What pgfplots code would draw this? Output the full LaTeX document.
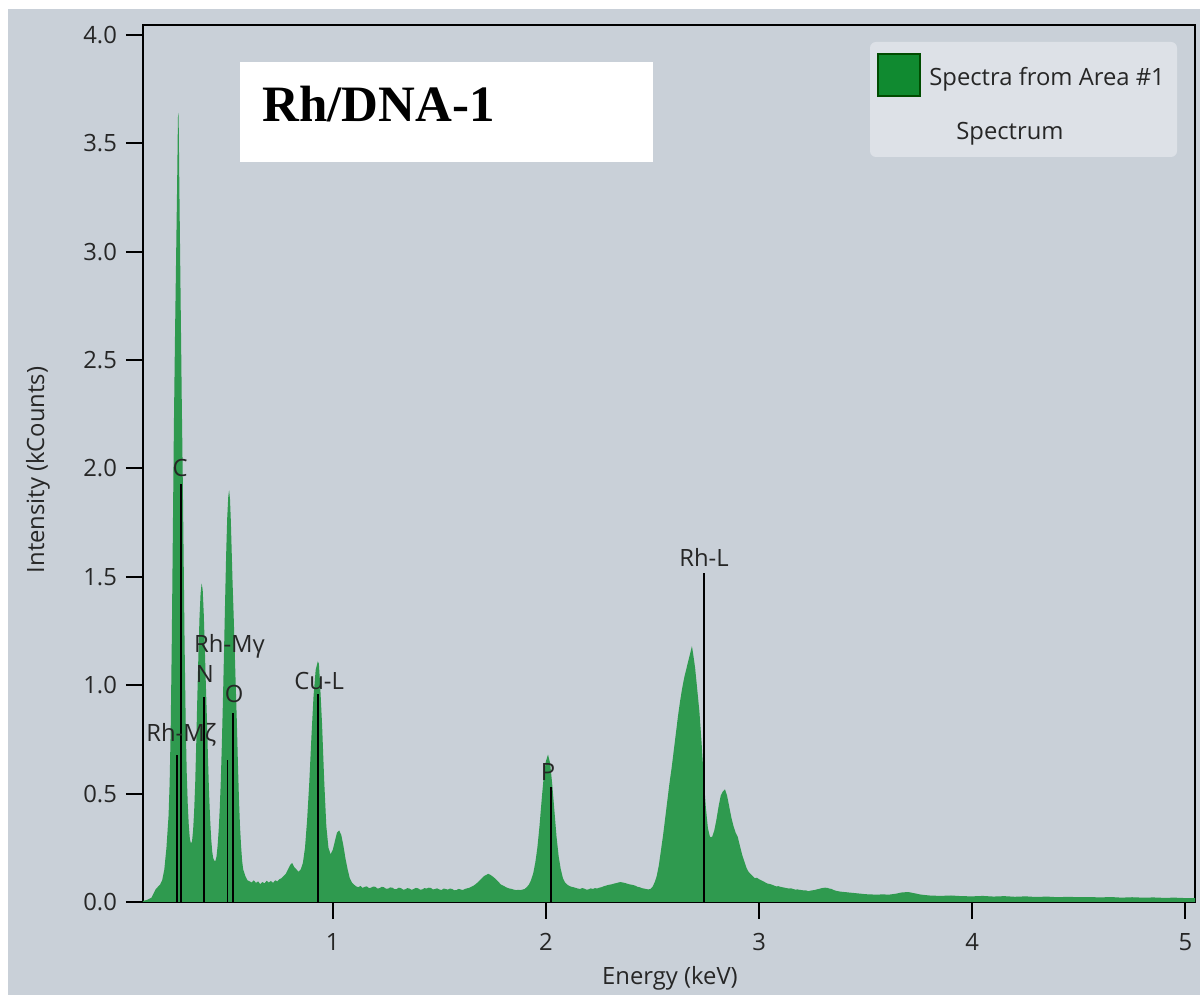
\documentclass[border=0pt]{standalone}
\usepackage{pgfplots}
\pgfplotsset{compat=1.18}
\usepackage{fontspec}
\setmainfont{Open Sans}
\newfontfamily\titlefont{Liberation Serif}
\definecolor{bgc}{RGB}{201,208,216}
\definecolor{legc}{RGB}{221,225,231}
\definecolor{spec}{RGB}{47,154,79}
\definecolor{legsq}{RGB}{16,138,48}
\newcommand{\lbfont}{\fontsize{11.9}{14}\selectfont}
\begin{document}
\begin{tikzpicture}
\fill[white] (-71.5pt,-46.5pt) rectangle (528.5pt,451pt);
\fill[bgc] (-67.5pt,-46.5pt) rectangle (528.5pt,446.5pt);
\begin{axis}[
  at={(0,0)}, anchor=south west, scale only axis,
  width=526pt, height=438.5pt,
  xmin=0.11, xmax=5.045, ymin=0, ymax=4.046,
  axis line style={black, line width=1pt},
  xtick={1,2,3,4,5}, ytick={0,0.5,1,1.5,2,2.5,3,3.5,4},
  tick align=outside, major tick length=8.5pt,
  tick style={black, line width=1pt},
  xtick pos=bottom, ytick pos=left,
  /pgf/number format/assume math mode=true,
  yticklabel style={/pgf/number format/fixed, /pgf/number format/fixed zerofill, /pgf/number format/precision=1, font=\lbfont, text=black!85, xshift=-1pt},
  xticklabel style={font=\lbfont, text=black!85, yshift=-3.5pt},
  clip mode=individual,
]
\addplot[fill=spec, draw=none] coordinates {
(0.110,0.005)(0.130,0.01)(0.150,0.02)(0.160,0.04)(0.170,0.06)(0.180,0.07)(0.190,0.08)(0.200,0.10)
(0.210,0.15)(0.220,0.25)(0.230,0.40)(0.235,0.55)(0.240,0.80)(0.245,1.20)(0.250,1.70)(0.255,2.20)
(0.260,2.60)(0.265,2.95)(0.270,3.30)(0.274,3.62)(0.277,3.64)(0.280,3.35)(0.284,3.00)(0.288,2.65)
(0.292,2.30)(0.296,2.00)(0.300,1.65)(0.305,1.20)(0.310,0.85)(0.315,0.60)(0.320,0.45)(0.325,0.35)
(0.330,0.29)(0.335,0.27)(0.340,0.28)(0.345,0.33)(0.350,0.42)(0.355,0.55)(0.360,0.74)(0.365,0.95)
(0.370,1.14)(0.375,1.31)(0.380,1.42)(0.385,1.47)(0.390,1.44)(0.395,1.33)(0.400,1.17)(0.405,1.00)
(0.410,0.84)(0.415,0.66)(0.420,0.50)(0.425,0.38)(0.430,0.29)(0.435,0.23)(0.440,0.20)(0.445,0.19)
(0.450,0.19)(0.455,0.21)(0.460,0.26)(0.465,0.33)(0.470,0.43)(0.475,0.56)(0.480,0.73)(0.485,0.93)
(0.490,1.15)(0.495,1.38)(0.500,1.60)(0.505,1.77)(0.510,1.87)(0.514,1.90)(0.518,1.86)(0.522,1.76)
(0.526,1.62)(0.530,1.48)(0.535,1.33)(0.540,1.17)(0.545,1.00)(0.550,0.84)(0.555,0.65)(0.560,0.48)
(0.565,0.35)(0.570,0.26)(0.575,0.19)(0.580,0.15)(0.590,0.12)(0.600,0.10)(0.610,0.095)(0.620,0.09)
(0.630,0.10)(0.640,0.088)(0.650,0.095)(0.660,0.082)(0.670,0.092)(0.680,0.086)(0.690,0.098)
(0.700,0.09)(0.710,0.097)(0.720,0.088)(0.730,0.10)(0.740,0.095)(0.750,0.105)(0.760,0.11)
(0.770,0.12)(0.780,0.13)(0.790,0.15)(0.800,0.17)(0.810,0.18)(0.820,0.16)(0.830,0.15)(0.840,0.14)
(0.850,0.15)(0.860,0.18)(0.870,0.25)(0.880,0.38)(0.890,0.55)(0.900,0.76)(0.910,0.95)(0.920,1.07)
(0.930,1.11)(0.935,1.10)(0.940,1.02)(0.950,0.82)(0.960,0.56)(0.970,0.35)(0.980,0.25)(0.990,0.22)
(1.000,0.24)(1.010,0.28)(1.020,0.32)(1.030,0.33)(1.040,0.31)(1.050,0.26)(1.060,0.20)(1.070,0.15)
(1.080,0.11)(1.090,0.09)(1.100,0.08)
(1.11,0.072)(1.12,0.068)(1.13,0.074)(1.14,0.065)(1.15,0.07)(1.16,0.072)(1.17,0.064)(1.18,0.066)
(1.19,0.071)(1.20,0.07)(1.21,0.062)(1.22,0.064)(1.23,0.07)(1.24,0.068)(1.25,0.061)(1.26,0.062)
(1.27,0.067)(1.28,0.066)(1.29,0.059)(1.30,0.06)(1.31,0.066)(1.32,0.064)(1.33,0.057)(1.34,0.058)
(1.35,0.064)(1.36,0.062)(1.37,0.056)(1.38,0.06)(1.39,0.065)(1.40,0.063)(1.41,0.057)(1.42,0.058)
(1.43,0.064)(1.44,0.062)(1.45,0.066)(1.46,0.065)(1.47,0.058)(1.48,0.06)(1.49,0.063)(1.50,0.058)
(1.51,0.055)(1.52,0.062)(1.53,0.06)(1.54,0.057)(1.55,0.062)(1.56,0.06)(1.57,0.054)(1.58,0.055)
(1.59,0.06)(1.60,0.058)(1.61,0.055)(1.62,0.06)(1.63,0.063)(1.64,0.065)(1.65,0.07)(1.66,0.075)
(1.67,0.082)(1.68,0.09)(1.69,0.10)(1.70,0.11)(1.71,0.12)(1.72,0.125)(1.73,0.13)(1.74,0.125)
(1.75,0.118)(1.76,0.11)(1.77,0.10)(1.78,0.09)(1.79,0.08)(1.80,0.075)(1.81,0.07)(1.82,0.065)
(1.83,0.062)(1.84,0.06)(1.85,0.057)(1.86,0.055)(1.87,0.056)(1.88,0.055)(1.89,0.057)(1.90,0.06)
(1.91,0.068)(1.92,0.08)(1.93,0.10)(1.94,0.13)(1.95,0.18)(1.96,0.25)(1.97,0.35)(1.98,0.47)
(1.99,0.58)(2.00,0.65)(2.01,0.68)(2.02,0.64)(2.03,0.54)(2.04,0.42)(2.05,0.30)(2.06,0.21)
(2.07,0.15)(2.08,0.11)(2.09,0.09)(2.10,0.08)(2.11,0.074)(2.12,0.07)(2.13,0.068)(2.14,0.065)
(2.15,0.062)(2.16,0.06)(2.17,0.064)(2.18,0.062)(2.19,0.057)(2.20,0.058)(2.21,0.063)(2.22,0.06)
(2.23,0.064)(2.24,0.062)(2.25,0.066)(2.26,0.068)(2.27,0.072)(2.28,0.075)(2.29,0.078)(2.30,0.08)
(2.31,0.082)(2.32,0.085)(2.33,0.087)(2.34,0.09)(2.35,0.092)(2.36,0.09)(2.37,0.088)(2.38,0.085)
(2.39,0.082)(2.40,0.08)(2.41,0.078)(2.42,0.075)(2.43,0.07)(2.44,0.068)(2.45,0.064)(2.46,0.062)
(2.47,0.06)(2.48,0.058)(2.49,0.06)(2.50,0.07)(2.51,0.09)(2.52,0.12)(2.53,0.17)
(2.54,0.24)(2.55,0.31)(2.56,0.39)(2.57,0.47)(2.58,0.55)(2.59,0.62)(2.60,0.70)(2.61,0.78)
(2.62,0.86)(2.63,0.93)(2.64,0.99)(2.65,1.04)(2.66,1.08)(2.67,1.12)(2.68,1.16)(2.685,1.18)
(2.69,1.15)(2.70,1.08)(2.71,0.98)(2.72,0.88)(2.73,0.74)(2.74,0.58)(2.75,0.44)(2.76,0.34)
(2.77,0.30)(2.78,0.30)(2.79,0.33)(2.80,0.38)(2.81,0.44)(2.82,0.49)(2.83,0.51)(2.84,0.52)
(2.85,0.49)(2.86,0.44)(2.87,0.39)(2.88,0.35)(2.89,0.32)(2.90,0.30)(2.91,0.26)(2.92,0.22)
(2.93,0.19)(2.94,0.16)(2.95,0.14)(2.96,0.13)(2.97,0.12)(2.98,0.11)(2.99,0.112)(3.00,0.105)
(3.01,0.10)(3.02,0.095)(3.03,0.09)(3.04,0.085)(3.05,0.083)(3.06,0.08)(3.07,0.076)(3.08,0.072)
(3.09,0.073)(3.10,0.07)(3.11,0.068)(3.12,0.066)(3.13,0.064)(3.14,0.062)(3.15,0.063)(3.16,0.06)
(3.17,0.057)(3.18,0.058)(3.19,0.056)(3.20,0.055)(3.21,0.053)(3.22,0.054)(3.23,0.05)(3.24,0.052)
(3.25,0.054)(3.26,0.055)(3.27,0.058)(3.28,0.06)(3.29,0.063)(3.30,0.065)(3.31,0.066)(3.32,0.065)
(3.33,0.062)(3.34,0.06)(3.35,0.055)(3.36,0.052)(3.37,0.05)(3.38,0.048)(3.39,0.047)(3.40,0.046)
(3.42,0.044)(3.44,0.042)(3.46,0.04)(3.48,0.038)(3.50,0.036)
(3.52,0.035)(3.55,0.034)(3.58,0.035)(3.61,0.034)(3.64,0.038)(3.67,0.044)(3.70,0.046)(3.73,0.04)
(3.76,0.034)(3.80,0.03)(3.85,0.028)(3.90,0.03)(3.95,0.027)(4.00,0.026)(4.05,0.028)(4.10,0.025)
(4.15,0.027)(4.20,0.024)(4.25,0.026)(4.30,0.023)(4.35,0.025)(4.40,0.022)(4.45,0.024)(4.50,0.022)
(4.55,0.023)(4.60,0.021)(4.65,0.023)(4.70,0.02)(4.75,0.022)(4.80,0.02)(4.85,0.021)(4.90,0.019)
(4.95,0.02)(5.00,0.018)(5.045,0.018)
} \closedcycle;
% element marker lines
\addplot[black, line width=0.9pt] coordinates {(0.269,0) (0.269,0.68)};
\addplot[black, line width=0.9pt] coordinates {(0.290,0) (0.290,1.93)};
\addplot[black, line width=0.9pt] coordinates {(0.398,0) (0.398,0.946)};
\addplot[black, line width=0.9pt] coordinates {(0.506,0) (0.506,0.655)};
\addplot[black, line width=0.9pt] coordinates {(0.534,0) (0.534,0.87)};
\addplot[black, line width=0.9pt] coordinates {(0.932,0) (0.932,0.96)};
\addplot[black, line width=0.9pt] coordinates {(2.024,0) (2.024,0.53)};
\addplot[black, line width=0.9pt] coordinates {(2.742,0) (2.742,1.52)};
\begin{scope}[every node/.style={font=\lbfont, text=black!85, inner sep=0pt}]
\node at (axis cs:0.284,2.00) {C};
\node at (axis cs:0.290,0.77) {Rh-Mζ};
\node at (axis cs:0.516,1.18) {Rh-Mγ};
\node at (axis cs:0.400,1.05) {N};
\node at (axis cs:0.537,0.96) {O};
\node at (axis cs:0.936,1.02) {Cu-L};
\node at (axis cs:2.010,0.60) {P};
\node at (axis cs:2.742,1.59) {Rh-L};
\end{scope}
\end{axis}
% title box
\fill[white] (48.5pt,370pt) rectangle (255pt,420pt);
\node[anchor=base west, inner sep=0pt, font=\titlefont\bfseries\fontsize{25.5}{30}\selectfont] at (59.5pt,390pt) {Rh/DNA-1};
% legend
\fill[legc, rounded corners=3pt] (363.5pt,372.5pt) rectangle (517pt,430pt);
\filldraw[fill=legsq, draw=black!70!green, line width=0.6pt] (367.5pt,403pt) rectangle (388.5pt,424pt);
\node[anchor=base west, inner sep=0pt, font=\lbfont, text=black!85] at (393pt,408pt) {Spectra from Area \#1};
\node[anchor=base, inner sep=0pt, font=\lbfont, text=black!85] at (433.5pt,381pt) {Spectrum};
% axis labels
\node[rotate=90, inner sep=0pt, font=\lbfont, text=black!85] at (-52.5pt,216pt) {Intensity (kCounts)};
\node[inner sep=0pt, font=\lbfont, text=black!85] at (263.5pt,-38pt) {Energy (keV)};
\end{tikzpicture}
\end{document}
